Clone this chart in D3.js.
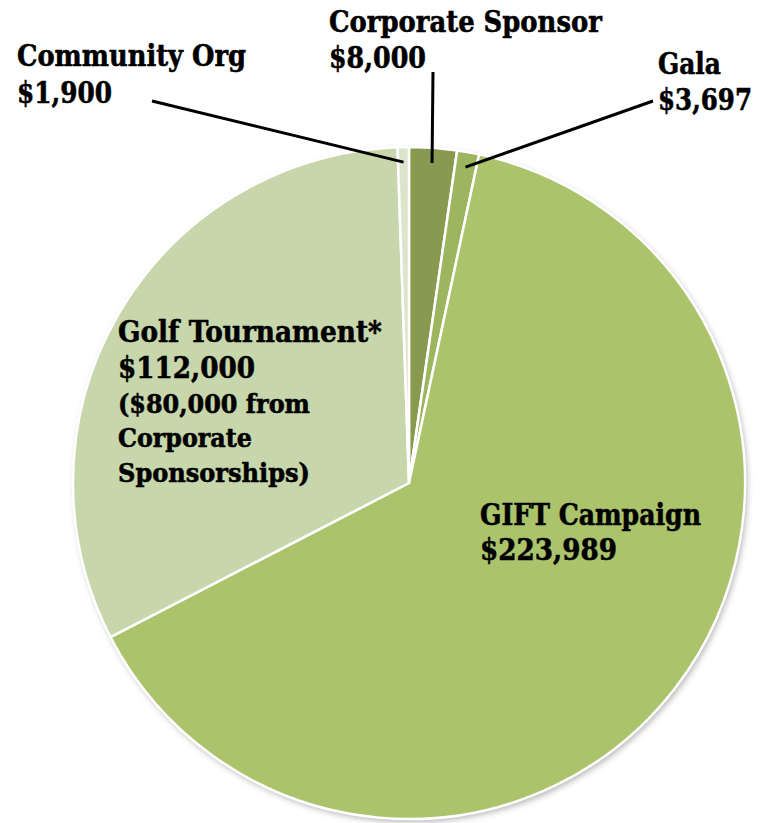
<!DOCTYPE html>
<html><head><meta charset="utf-8">
<script src="https://cdn.jsdelivr.net/npm/d3@7"></script>
<style>
html,body{margin:0;padding:0;background:#fff;}
text{font-family:"DejaVu Serif",serif;font-weight:bold;fill:#000;stroke:#000;stroke-width:0.6px;}
</style></head><body>
<svg id="c" width="760" height="823"></svg>
<script>
const categories = ["Corporate Sponsor","Gala","GIFT Campaign","Golf Tournament*","Community Org"];
const values = [8000, 3697, 223989, 112000, 1900];
const valueLabels = ["$8,000","$3,697","$223,989","$112,000","$1,900"];
const notes = [[],[],[],["($80,000 from","Corporate","Sponsorships)"],[]];
const colors = ["#879a50","#9db55f","#abc46c","#c8d6ab","#dce5cc"];

const cx=409,cy=483,R=336;
const svg=d3.select("#c");
const defs=svg.append("defs");
const f=defs.append("filter").attr("id","sh").attr("x","-10%").attr("y","-10%").attr("width","120%").attr("height","120%");
f.append("feDropShadow").attr("dx",2).attr("dy",3).attr("stdDeviation",3).attr("flood-color","#000").attr("flood-opacity",0.3);

const data=categories.map((c,i)=>({cat:c,value:values[i],label:valueLabels[i],note:notes[i],color:colors[i]}));
const pie=d3.pie().value(d=>d.value).sort(null);
const arcs=pie(data);
const arc=d3.arc().innerRadius(0).outerRadius(R);
const g=svg.append("g").attr("transform",`translate(${cx},${cy})`);
g.append("circle").attr("r",R).attr("fill","#fff").attr("filter","url(#sh)");
g.selectAll("path.s").data(arcs).join("path").attr("class","s")
 .attr("d",arc).attr("fill",d=>d.data.color).attr("stroke","#fff").attr("stroke-width",2.5).attr("stroke-linejoin","round");

// label layout (positions and fitted widths only)
const layout={
 "Corporate Sponsor":{x:329,y:32,lh:36,fs:30,w:[273,97],tip:[433,72]},
 "Gala":{x:658,y:74,lh:36,fs:30,w:[63,94],tip:[653,101]},
 "GIFT Campaign":{x:480,y:525,lh:35,fs:30,w:[221,137]},
 "Golf Tournament*":{x:118,y:342,lh:36,fs:30,w:[264,137],nfs:26,nlh:34.5,nw:[192,134,192]},
 "Community Org":{x:17,y:66,lh:37,fs:30,w:[229,95],tip:[152,101]}
};
function line(txt,x,y,fs,w){
 const t=svg.append("text").attr("font-size",fs).attr("x",0).attr("y",0).text(txt);
 const nat=t.node().getComputedTextLength();
 t.attr("transform",`translate(${x},${y}) scale(${w/nat},1)`);
}
arcs.forEach(a=>{
 const L=layout[a.data.cat];
 if(L.tip){
  const mid=(a.startAngle+a.endAngle)/2;
  const r=R*0.955;
  const px=cx+Math.sin(mid)*r, py=cy-Math.cos(mid)*r;
  svg.append("line").attr("x1",L.tip[0]).attr("y1",L.tip[1]).attr("x2",px).attr("y2",py)
   .attr("stroke","#000").attr("stroke-width",3);
 }
 line(a.data.cat,L.x,L.y,L.fs,L.w[0]);
 line(a.data.label,L.x,L.y+L.lh,L.fs,L.w[1]);
 a.data.note.forEach((n,j)=>line(n,L.x,L.y+L.lh+(j+1)*L.nlh,L.nfs,L.nw[j]));
});
</script></body></html>
